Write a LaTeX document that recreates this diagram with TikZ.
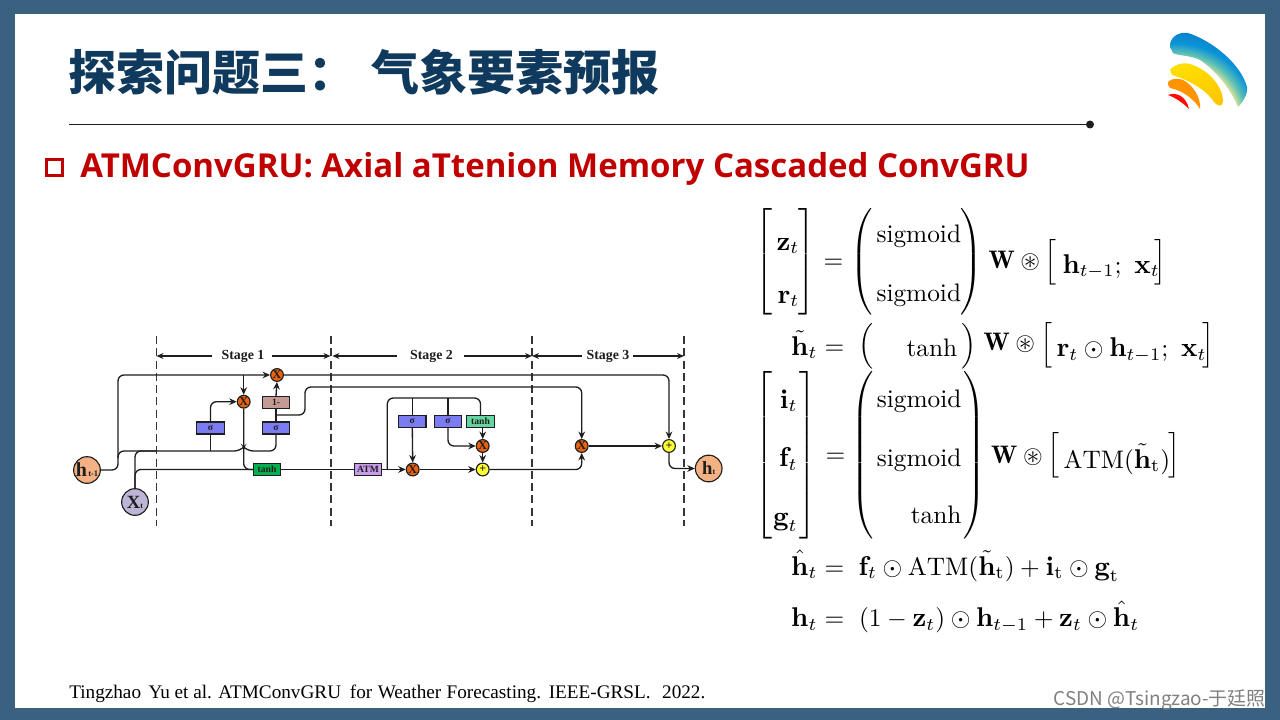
\documentclass[tikz,border=0pt]{standalone}
\usepackage{amsmath,amssymb}
\usepackage{fontspec}
\usetikzlibrary{arrows.meta}
\newfontfamily\cjkf{Noto Sans CJK SC}
\newfontfamily\headf{Open Sans}
\newfontfamily\serf{Liberation Serif}
\definecolor{framec}{HTML}{3B6180}
\definecolor{titlec}{HTML}{0F3A5E}
\definecolor{redc}{HTML}{C00000}
\definecolor{linec}{HTML}{1E1E1E}
\definecolor{sigc}{HTML}{7B7BF2}
\definecolor{onec}{HTML}{C49A94}
\definecolor{tanc}{HTML}{00B050}
\definecolor{tanlc}{HTML}{66D6A0}
\definecolor{atmc}{HTML}{C79CEB}
\definecolor{hc}{HTML}{F4B183}
\definecolor{xc}{HTML}{BDB5D6}
\definecolor{mulc}{HTML}{E8620F}
\definecolor{addc}{HTML}{FFFF33}
\definecolor{logoa}{HTML}{D6E29A}
\definecolor{logob}{HTML}{5CC0B4}
\definecolor{logoc}{HTML}{0A93D8}
\definecolor{logod}{HTML}{0A78C4}
\pgfdeclareradialshading{logoshade}{\pgfpointorigin}{color(0bp)=(logoa); color(16bp)=(logoa); color(18bp)=(logob); color(20.5bp)=(logoc); color(25bp)=(logod); color(50bp)=(logod)}
\delimiterfactor=1000
\delimitershortfall=0pt
\newcommand{\B}[1]{\text{\fontsize{10.7}{12}\selectfont\bfseries #1}}
\newcommand{\LBr}[1]{$\left[\vcenter{\vbox to #1{}}\right.$}
\newcommand{\RBr}[1]{$\left.\vcenter{\vbox to #1{}}\right]$}
\newcommand{\LPa}[1]{$\left(\vcenter{\vbox to #1{}}\right.$}
\newcommand{\RPa}[1]{$\left.\vcenter{\vbox to #1{}}\right)$}
\tikzset{
  x=0.75pt,y=-0.75pt,
  conn/.style={draw=linec,line width=1pt,rounded corners=4.5pt},
  tip/.style={conn,-{Stealth[length=5.6pt,width=5pt]}},
  lefttip/.style={draw=linec,line width=0.8pt,{Stealth[length=5.2pt,width=4.4pt]}-},
  righttip/.style={draw=linec,line width=0.8pt,-{Stealth[length=5.2pt,width=4.4pt]}},
  dashv/.style={draw=linec!90,line width=1pt,dash pattern=on 6pt off 3.2pt},
  box/.style={draw=linec,line width=0.85pt,minimum width=20.5pt,minimum height=9pt,inner sep=0pt,font=\serf\bfseries\fontsize{7.2}{7.2}\selectfont,text=linec},
  sigbox/.style={box,fill=sigc},
  mul/.style={circle,draw=linec,line width=0.85pt,fill=mulc,minimum size=9.6pt,inner sep=0pt,font=\serf\bfseries\fontsize{9}{9}\selectfont,text=linec},
  add/.style={mul,fill=addc},
  state/.style={circle,draw=linec,line width=0.85pt,minimum size=20pt,inner sep=0pt,font=\serf\bfseries,text=linec},
  stagelab/.style={font=\serf\bfseries\fontsize{10.4}{10.4}\selectfont,text=linec,inner sep=0pt},
  eq/.style={scale=1.9,inner sep=0pt,anchor=base west},
  delimL/.style={scale=1.9,inner sep=0pt,anchor=west},
  delimR/.style={scale=1.9,inner sep=0pt,anchor=east},
}
\begin{document}
\begin{tikzpicture}
\useasboundingbox (0,0) rectangle (1280,720);
\fill[framec] (0,0) rectangle (1280,720);
\fill[white] (15,14) rectangle (1265,708);

% heading
\node[anchor=west,inner sep=0pt,text=titlec,font=\cjkf\bfseries\fontsize{36}{36}\selectfont] (t1) at (68,72) {探索问题三：};
\node[anchor=west,inner sep=0pt,text=titlec,font=\cjkf\bfseries\fontsize{36}{36}\selectfont] (t2) at (371,72) {气象要素预报};
\coordinate (ruleL) at (69,124.5);
\node[circle,fill=linec,inner sep=0pt,minimum size=6pt] (ruleR) at (1090,124.5) {};
\draw[linec,line width=0.8pt] (ruleL) -- (ruleR);
\node[draw=redc,line width=2.6pt,minimum size=12pt,inner sep=0pt] (bullet) at (54.5,167.5) {};
\node[anchor=west,inner sep=0pt,text=redc,font=\headf\bfseries\fontsize{24.75}{25}\selectfont] (sub) at (80,169) {ATMConvGRU: Axial aTtenion Memory Cascaded ConvGRU};

% logo
\begin{scope}
\clip (1170,44) .. controls (1172,35) and (1180,32) .. (1188,33) .. controls (1210,40) and (1240,62) .. (1247,87)
 .. controls (1248,95) and (1242,103) .. (1238,107) .. controls (1232,92) and (1218,72) .. (1200,60)
 .. controls (1190,55) and (1178,56) .. (1173,53) .. controls (1171,50) and (1170,47) .. (1170,44) -- cycle;
\shade[shading=logoshade] (1175,125) circle (100);
\end{scope}
\shade[left color=yellow!75!orange,right color=orange!45!yellow,shading angle=20] (1170,70) .. controls (1175,64) and (1183,62) .. (1190,64) .. controls (1210,70) and (1223,88) .. (1223,101)
 .. controls (1223,107) and (1218,107) .. (1214,102) .. controls (1208,92) and (1192,81) .. (1172,75) -- cycle;
\fill[orange!85!yellow] (1168,82) .. controls (1172,78) and (1178,78) .. (1183,80) .. controls (1194,86) and (1201,98) .. (1200,109)
 .. controls (1195,101) and (1185,91) .. (1170,88) .. controls (1168,86) and (1168,84) .. (1168,82) -- cycle;
\fill[red!90!orange] (1168,95) .. controls (1175,92) and (1186,95) .. (1189,109) .. controls (1183,103) and (1176,98) .. (1168,95) -- cycle;

% dashed stage separators
\foreach \n/\xx in {d1/156.5,d2/331,d3/532,d4/684}{
  \coordinate (\n t) at (\xx,336);
  \coordinate (\n b) at (\xx,526);
  \coordinate (\n m) at (\xx,356);
  \draw[dashv] (\n t) -- (\n b);
}
\node[stagelab] (s1) at (243,356) {Stage 1};
\node[stagelab] (s2) at (431.5,356) {Stage 2};
\node[stagelab] (s3) at (608,356) {Stage 3};
\draw[lefttip] (d1m) -- ([xshift=-6.75pt]s1.west);
\draw[righttip] ([xshift=5.25pt]s1.east) -- ([xshift=-0.4pt]d2m);
\draw[lefttip] ([xshift=1.1pt]d2m) -- ([xshift=-9.75pt]s2.west);
\draw[righttip] ([xshift=8.25pt]s2.east) -- (d3m);
\draw[lefttip] (d3m) -- ([xshift=-3pt]s3.west);
\draw[righttip] ([xshift=2.25pt]s3.east) -- (d4m);

% states
\node[state,fill=hc] (hin) at (87,470) {\fontsize{15}{15}\selectfont h\fontsize{6.4}{6.4}\selectfont\,t-1};
\node[state,fill=xc] (xin) at (135,502) {\fontsize{14}{14}\selectfont X\fontsize{6}{6}\selectfont t};
\node[state,fill=hc] (hout) at (708.7,468.5) {\fontsize{14}{14}\selectfont h\fontsize{6}{6}\selectfont t};

% operators
\node[mul] (X1) at (277,375) {X};
\node[mul] (X2) at (243.7,401.7) {X};
\node[mul] (X3) at (581.7,446) {X};
\node[mul] (X4) at (412.7,469.5) {X};
\node[mul] (X5) at (482.7,446) {X};
\node[add] (P1) at (482.7,469.5) {+};
\node[add] (P2) at (669,446) {+};

% boxes
\node[sigbox] (sig1) at (210.5,428) {σ};
\node[sigbox] (sig2) at (276,428) {σ};
\node[box,fill=onec] (one) at (276,402.5) {1-};
\node[box,fill=tanc] (tan1) at (267,469.5) {tanh};
\node[box,fill=atmc] (atm) at (368,469.5) {ATM};
\node[sigbox] (sig3) at (412.3,421.5) {σ};
\node[sigbox] (sig4) at (448,421.5) {σ};
\node[box,fill=tanlc] (tan2) at (480.5,421.5) {tanh};

% junction coordinates
\coordinate (jtop) at (118,375);
\coordinate (jhup) at (118,458);
\coordinate (jmid) at (118,451);
\coordinate (jhop1) at (240.2,451);
\coordinate (jhop2) at (247.2,451);
\coordinate (jxmid) at (135,451);
\coordinate (jm2) at (276,451);
\coordinate (jsig) at (276,415);
\coordinate (jb1) at (305,415);
\coordinate (jb2) at (305,387);
\coordinate (jatm) at (387.3,469.5);
\coordinate (jat2) at (387.3,398);
\coordinate (jtn) at (480.5,398);

% connectors
\draw[tip] (hin.east) -- (jtop |- hin.east) -- (jtop) -- (X1.west);
\draw[conn] (jhup) -- (jmid) -- (jhop1) .. controls (242,449) and (245.4,449) .. (jhop2) -- (jm2) -- (sig2.south);
\draw[conn] (xin.north) -- (jxmid) -- (jxmid -| d1m);
\draw[conn] (xin.north) -- (jxmid |- tan1.west) -- (tan1.west);
\draw[conn] (sig1.south) -- (sig1 |- jmid);
\draw[tip] (sig1.north) |- (X2.west);
\draw[tip] (X2 |- jtop) -- (X2.north);
\draw[conn] (X2.south) -- (X2 |- tan1.west) -- (tan1.west);
\draw[conn] (sig2.north) -- (one.south);
\draw[tip] (one.north) -- (X1.south);
\draw[tip] (jsig) -- (jb1) -- (jb2) -- (jb2 -| X3) -- (X3.north);
\draw[tip] (X1.east) -- (X1 -| P2) -- (P2.north);
\draw[conn] (tan1.east) -- (atm.west);
\draw[tip] (atm.east) -- (X4.west);
\draw[conn] (jatm) -- (jat2) -- (jtn) -- (tan2.north);
\draw[conn] (sig3.north) -- (sig3 |- jat2);
\draw[tip] (sig3.south) -- (X4.north);
\draw[conn] (sig4.north) -- (sig4 |- jat2);
\draw[tip] (sig4.south) |- (X5.west);
\draw[tip] (tan2.south -| X5) -- (X5.north);
\draw[tip] (X5.south) -- (P1.north);
\draw[tip] (X4.east) -- (P1.west);
\draw[tip] (P1.east) -| (X3.south);
\draw[tip] (X3.east) -- (P2.west);
\draw[tip] (P2.south) |- (hout.west);

% equation 1
\node[delimL] (e1a) at (755,262) {\LBr{42pt}};
\node[delimR] (e1b) at (816,262) {\RBr{42pt}};
\node[eq] (e1c) at (776,250) {$\B{z}_t$};
\node[eq] (e1d) at (777,303) {$\B{r}_t$};
\node[eq] (e1e) at (823,268) {$=$};
\node[delimL] (e1f) at (850,262) {\LPa{42pt}};
\node[delimR] (e1g) at (983,262) {\RPa{42pt}};
\node[eq] (e1h) at (876,243) {$\mathrm{sigmoid}$};
\node[eq] (e1i) at (876,301.5) {$\mathrm{sigmoid}$};
\node[eq] (e1j) at (988,268) {$\mathbf{W}\circledast{}$};
\node[delimL] (e1k) at (1044,262.5) {$\Big[$};
\node[eq] (e1l) at (1062,273) {$\B{h}_{t-1};\ \B{x}_t$};
\node[delimR] (e1m) at (1167,262.5) {$\Big]$};
% equation 2
\node[eq] (e2a) at (790.7,355) {$\tilde{\B{h}}_t$};
\node[eq] (e2b) at (824,354) {$=$};
\node[delimL] (e2c) at (858,346) {$\Big($};
\node[eq] (e2d) at (906,356.5) {$\mathrm{tanh}$};
\node[delimR] (e2e) at (977,346) {$\Big)$};
\node[eq] (e2f) at (983,350) {$\mathbf{W}\circledast{}$};
\node[delimL] (e2g) at (1040,345.5) {$\Big[$};
\node[eq] (e2h) at (1056,356.5) {$\B{r}_t\odot\B{h}_{t-1};\ \B{x}_t$};
\node[delimR] (e2i) at (1215,345.5) {$\Big]$};
% equation 3
\node[delimL] (e3a) at (755,455.5) {\LBr{66pt}};
\node[delimR] (e3b) at (817,455.5) {\RBr{66pt}};
\node[eq,anchor=base east] (e3c) at (798,408) {$\B{i}_t$};
\node[eq,anchor=base east] (e3d) at (798,466.5) {$\B{f}_t$};
\node[eq,anchor=base east] (e3e) at (798,525) {$\B{g}_t$};
\node[eq] (e3f) at (825,462) {$=$};
\node[delimL] (e3g) at (851,455.5) {\LPa{66pt}};
\node[delimR] (e3h) at (986,455.5) {\RPa{66pt}};
\node[eq,anchor=base east] (e3i) at (962,407.5) {$\mathrm{sigmoid}$};
\node[eq,anchor=base east] (e3j) at (962,466) {$\mathrm{sigmoid}$};
\node[eq,anchor=base east] (e3k) at (962,523) {$\mathrm{tanh}$};
\node[eq] (e3l) at (990.7,463) {$\mathbf{W}\circledast{}$};
\node[delimL] (e3m) at (1046.5,455.5) {$\Big[$};
\node[eq] (e3n) at (1063,468) {$\mathrm{ATM}(\tilde{\B{h}}_{\mathrm{t}})$};
\node[delimR] (e3o) at (1181,455.5) {$\Big]$};
% equation 4
\node[eq] (e4a) at (790.7,575) {$\hat{\B{h}}_t$};
\node[eq] (e4b) at (824,575) {$=$};
\node[eq] (e4c) at (858,575) {$\B{f}_t\odot\mathrm{ATM}(\tilde{\B{h}}_{\mathrm{t}})+\B{i}_{\mathrm{t}}\odot\B{g}_{\mathrm{t}}$};
% equation 5
\node[eq] (e5a) at (790.7,626.5) {$\B{h}_t$};
\node[eq] (e5b) at (824,626.5) {$=$};
\node[eq] (e5c) at (858.5,626.5) {$(1-\B{z}_t)\odot\B{h}_{t-1}+\B{z}_t\odot\hat{\B{h}}_t$};

% footer
\node[anchor=base west,inner sep=0pt,font=\serf\fontsize{14.4}{14.4}\selectfont] (foot) at (69,698) {Tingzhao\hspace{2pt} Yu et al. ATMConvGRU\hspace{3pt} for\hspace{0.5pt} Weather\hspace{0.5pt} Forecasting.\hspace{1pt} IEEE-GRSL.\hspace{5pt} 2022.};
\node[anchor=base east,inner sep=0pt,text=black!50,font=\cjkf\fontsize{14.2}{14.2}\selectfont] (mark) at (1266,705) {CSDN @Tsingzao-于廷照};
\end{tikzpicture}
\end{document}
